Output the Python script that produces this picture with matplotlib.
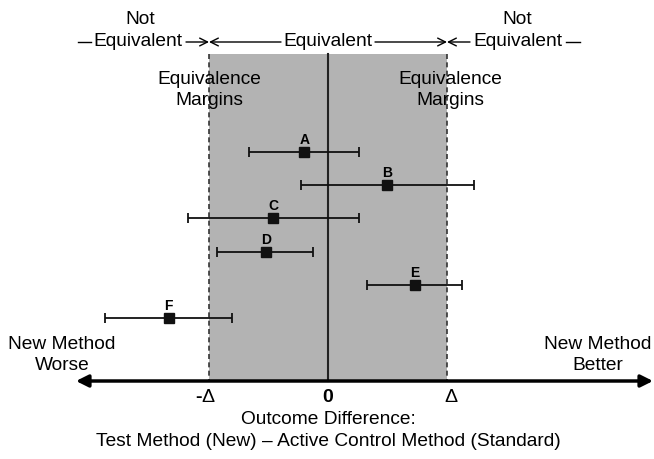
import matplotlib.pyplot as plt
from matplotlib.patches import Rectangle

plt.rcParams['font.family'] = ['Liberation Sans', 'DejaVu Sans']

# data: point estimates and confidence limits, in units of the margin (Delta = 1)
labels = ['A', 'B', 'C', 'D', 'E', 'F']
est = [-0.20, 0.50, -0.46, -0.52, 0.73, -1.34]
lo = [-0.66, -0.23, -1.18, -0.93, 0.33, -1.87]
hi = [0.26, 1.23, 0.26, -0.13, 1.13, -0.81]
rows = [1, 2, 3, 4, 5, 6]
margin = 1.0

# pixel -> data helpers (layout only)
PX0, PXU = 328.0, 119.0
PY0, PYU = 152.0, 33.2
def dx(px):
    return (px - PX0) / PXU
def dy(py):
    return 1 + (py - PY0) / PYU

fig = plt.figure(figsize=(6.54, 4.59), dpi=100)
ax = fig.add_axes([0, 0, 1, 1])
ax.set_xlim(dx(0), dx(654))
ax.set_ylim(dy(459), dy(0))
ax.axis('off')

top, bottom = dy(54), dy(381)
ax.add_patch(Rectangle((-margin, top), 2 * margin, bottom - top,
                       facecolor='#b3b3b3', edgecolor='none', zorder=0))
ax.plot([-margin, -margin], [top, bottom], color='#333333', lw=1.2, ls=(0, (3, 2)), zorder=1)
ax.plot([margin, margin], [top, bottom], color='#333333', lw=1.2, ls=(0, (3, 2)), zorder=1)
ax.plot([0, 0], [top, bottom], color='#222222', lw=1.5, zorder=1)

# horizontal axis arrow
ax.annotate('', xy=(dx(76), bottom), xytext=(dx(653), bottom),
            arrowprops=dict(arrowstyle='<|-|>', lw=2.5, color='black',
                            mutation_scale=18, shrinkA=0, shrinkB=0))
yt = dy(398)
ax.text(0, yt, '0', ha='center', va='center', fontsize=14, fontweight='bold')
ax.text(-margin - 0.01, yt, '\u0394', ha='center', va='center', fontsize=14)
ax.text(-margin - 0.06, yt, '-', ha='right', va='center', fontsize=14, fontweight='bold')
ax.text(margin + 0.03, yt, '\u0394', ha='center', va='center', fontsize=14)

# estimates with intervals
xerr = [[e - l for e, l in zip(est, lo)], [h - e for e, h in zip(est, hi)]]
ax.errorbar(est, rows, xerr=xerr, fmt='s', color='#111111', ms=7,
            elinewidth=1.3, capsize=3.5, capthick=1.3, zorder=3)
for lab, e, r in zip(labels, est, rows):
    ax.text(e, r - 0.36, lab, ha='center', va='center', fontsize=10, fontweight='bold')

fs = 13.8
ls = 1.32
# top annotations
yn, ye = dy(20), dy(42)
ax.text(dx(140), yn, 'Not', ha='center', va='center', fontsize=fs)
ax.text(dx(517), yn, 'Not', ha='center', va='center', fontsize=fs)
ax.plot([dx(78), dx(91)], [ye, ye], color='black', lw=1)
ax.text(dx(138), ye, 'Equivalent', ha='center', va='center', fontsize=fs)
ax.plot([dx(566), dx(580)], [ye, ye], color='black', lw=1)
ax.text(dx(518), ye, 'Equivalent', ha='center', va='center', fontsize=fs)
ax.text(0, ye, 'Equivalent', ha='center', va='center', fontsize=fs)
arr = dict(arrowstyle='->', lw=1, color='black', mutation_scale=14, shrinkA=0, shrinkB=0)
ax.annotate('', xy=(-margin, ye), xytext=(dx(186), ye), arrowprops=arr)
ax.annotate('', xy=(-margin, ye), xytext=(dx(281), ye), arrowprops=arr)
ax.annotate('', xy=(margin, ye), xytext=(dx(375), ye), arrowprops=arr)
ax.annotate('', xy=(margin, ye), xytext=(dx(470), ye), arrowprops=arr)

ax.text(-margin, dy(90), 'Equivalence\nMargins', ha='center', va='center',
        fontsize=fs, linespacing=ls)
ax.text(dx(450), dy(90), 'Equivalence\nMargins', ha='center', va='center',
        fontsize=fs, linespacing=ls)

ax.text(dx(62), dy(355), 'New Method\nWorse', ha='center', va='center',
        fontsize=fs, linespacing=ls)
ax.text(dx(598), dy(355), 'New Method\nBetter', ha='center', va='center',
        fontsize=fs, linespacing=ls)

ax.text(0, dy(419), 'Outcome Difference:', ha='center', va='center', fontsize=fs)
ax.text(0, dy(441), 'Test Method (New) \u2013 Active Control Method (Standard)',
        ha='center', va='center', fontsize=fs)

fig.savefig('out.png', dpi=100)
